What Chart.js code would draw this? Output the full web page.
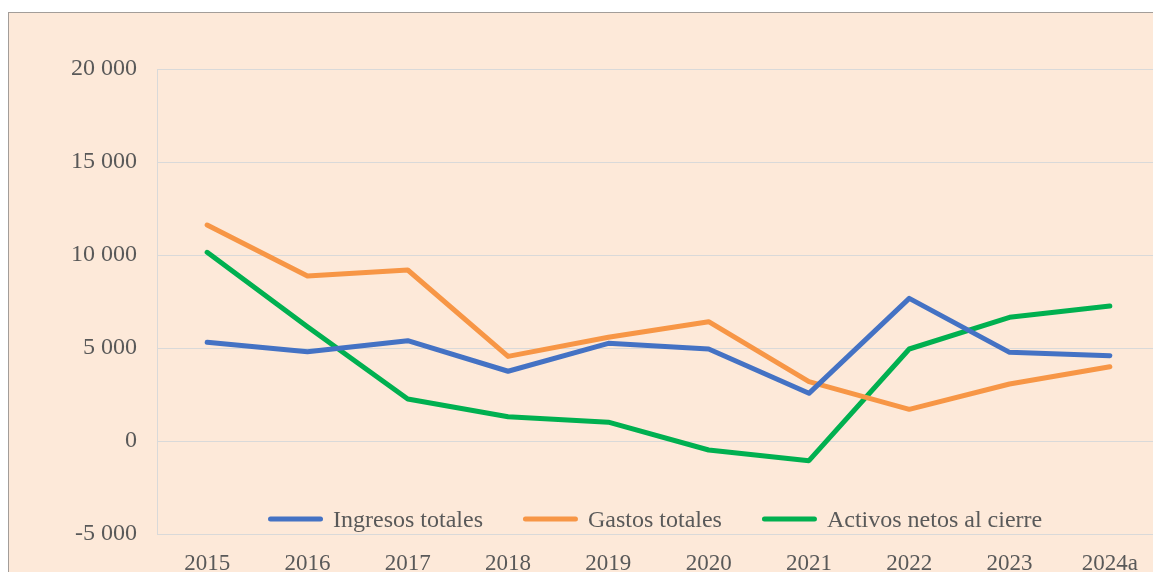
<!DOCTYPE html>
<html>
<head>
<meta charset="utf-8">
<script src="https://cdn.jsdelivr.net/npm/chart.js@4.4.1/dist/chart.umd.min.js"></script>
<style>
    html, body {
        margin: 0;
        padding: 0;
        background: #ffffff;
        overflow: hidden;
        width: 1153px;
        height: 572px;
    }
    .chart-box {
        position: absolute;
        left: 8px;
        top: 12px;
        border-top: 1px solid #a39d99;
        border-left: 1px solid #a39d99;
        background: #fde9d9;
        width: 1151px;
        height: 600px;
    }
</style>
</head>
<body>
<div class="chart-box">
    <canvas id="lineChart" width="1151" height="600"></canvas>
</div>
<script>
const years = ['2015', '2016', '2017', '2018', '2019', '2020', '2021', '2022', '2023', '2024a'];
const ingresos = [5306, 4800, 5394, 3750, 5250, 4946, 2563, 7670, 4767, 4588];
const gastos = [11613, 8871, 9194, 4550, 5575, 6415, 3190, 1703, 3065, 3996];
const activos = [10143, 6147, 2258, 1300, 1010, -484, -1057, 4946, 6650, 7258];
const yTicks = [-5000, 0, 5000, 10000, 15000, 20000];

const textColor = '#595959';
const gridColor = '#d9d9d9';
const fontFamily = '"Liberation Serif", "Times New Roman", serif';

// legend drawn inside the plot, near the bottom
const innerLegend = {
    id: 'innerLegend',
    afterDraw(chart) {
        const ctx = chart.ctx;
        const lineLen = 55;
        const gap = 10;
        const itemGap = 40;
        const y = 506;
        ctx.save();
        ctx.font = '24px ' + fontFamily;
        let x = 259;
        chart.data.datasets.forEach(ds => {
            ctx.strokeStyle = ds.borderColor;
            ctx.lineWidth = 5;
            ctx.lineCap = 'round';
            ctx.beginPath();
            ctx.moveTo(x + 2.5, y);
            ctx.lineTo(x + lineLen - 2.5, y);
            ctx.stroke();
            x += lineLen + gap;
            ctx.fillStyle = textColor;
            ctx.textBaseline = 'alphabetic';
            ctx.textAlign = 'left';
            ctx.fillText(ds.label, x, 514);
            x += ctx.measureText(ds.label).width + itemGap;
        });
        ctx.restore();
    }
};

const lineStyle = {
    borderWidth: 5,
    pointRadius: 0,
    tension: 0,
    borderCapStyle: 'round',
    borderJoinStyle: 'round',
    fill: false
};

const ctx = document.getElementById('lineChart').getContext('2d');
const chart = new Chart(ctx, {
    type: 'line',
    data: {
        labels: years,
        datasets: [
            { label: 'Ingresos totales', data: ingresos, borderColor: '#4472c4', ...lineStyle },
            { label: 'Gastos totales', data: gastos, borderColor: '#f79646', ...lineStyle },
            { label: 'Activos netos al cierre', data: activos, borderColor: '#00b050', ...lineStyle }
        ]
    },
    options: {
        responsive: false,
        animation: false,
        layout: {
            padding: { top: 56, right: 0, bottom: 0, left: 0 }
        },
        plugins: {
            legend: { display: false },
            tooltip: { enabled: false }
        },
        scales: {
            x: {
                offset: true,
                grid: { display: false, drawTicks: false },
                border: { display: true, color: gridColor },
                ticks: {
                    color: textColor,
                    padding: 16,
                    maxRotation: 0,
                    font: { family: fontFamily, size: 23 }
                },
                afterFit(scale) {
                    scale.height = 79;
                }
            },
            y: {
                min: -5000,
                max: 20000,
                afterBuildTicks(scale) {
                    scale.ticks = yTicks.map(v => ({ value: v }));
                },
                grid: { color: gridColor, lineWidth: 1, drawTicks: false },
                border: { display: true, color: gridColor },
                ticks: {
                    color: textColor,
                    padding: 20,
                    font: { family: fontFamily, size: 24 },
                    callback: value => {
                        const sign = value < 0 ? '-' : '';
                        const abs = Math.abs(value);
                        const thousands = Math.floor(abs / 1000);
                        return thousands === 0 ? '0' : sign + thousands + ' 000';
                    }
                },
                afterFit(scale) {
                    scale.width = 148;
                }
            }
        }
    },
    plugins: [innerLegend]
});
</script>
</body>
</html>
